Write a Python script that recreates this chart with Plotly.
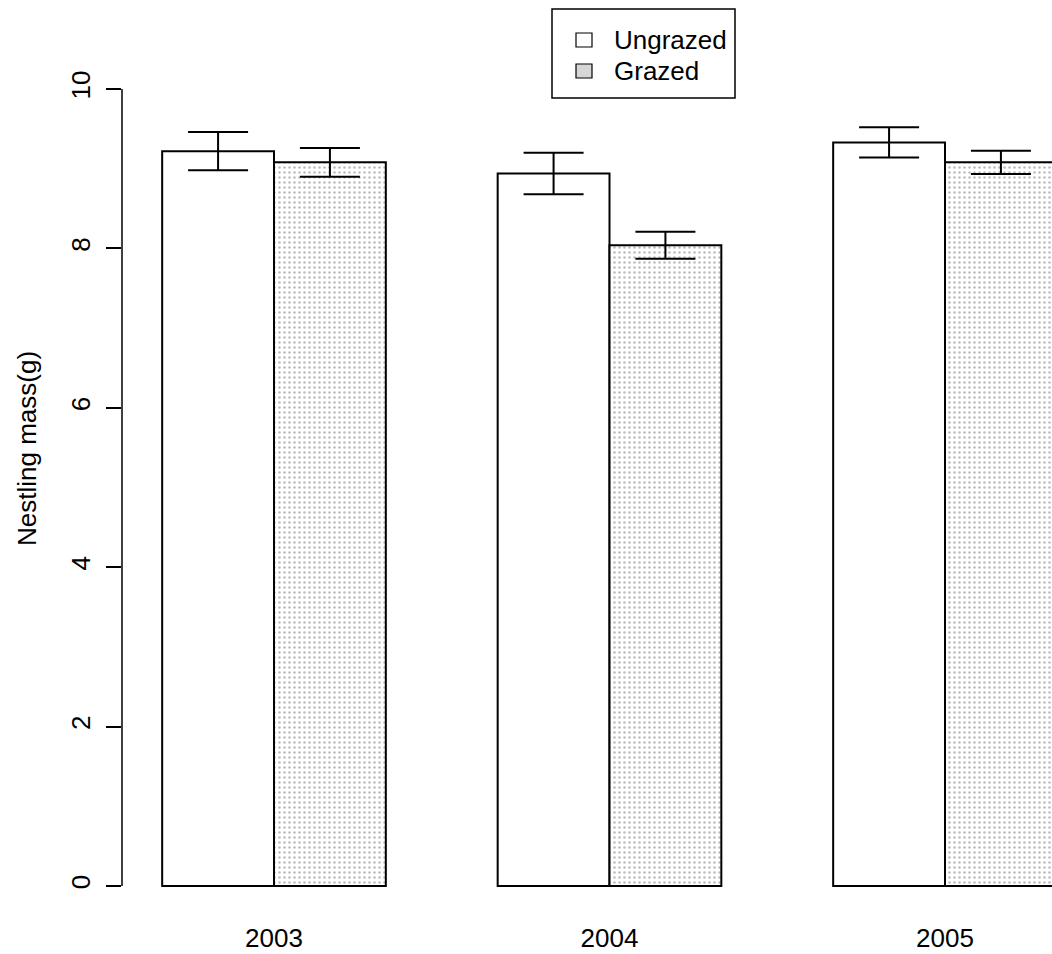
import plotly.graph_objects as go

# Mean nestling mass (g) with standard errors, by year and grazing treatment
years = ["2003", "2004", "2005"]
ungrazed_mass = [9.22, 8.94, 9.33]
ungrazed_se = [0.24, 0.26, 0.19]
grazed_mass = [9.08, 8.04, 9.08]
grazed_se = [0.18, 0.17, 0.145]
y_ticks = [0, 2, 4, 6, 8, 10]

W, H = 1052, 954
L, R, T, B = 122, 0, 40, 34          # plot-area margins (px)
FONT = "Liberation Sans, Arial, sans-serif"
FS = 26

fig = go.Figure()

fig.add_trace(go.Bar(
    name="Ungrazed", x=years, y=ungrazed_mass,
    marker=dict(color="white", line=dict(color="black", width=2)),
    error_y=dict(type="data", array=ungrazed_se, visible=True,
                 color="black", thickness=2, width=30),
    showlegend=False,
))
fig.add_trace(go.Bar(
    name="Grazed", x=years, y=grazed_mass,
    marker=dict(color="white", line=dict(color="black", width=2),
                pattern=dict(shape=".", fgcolor="#7a7a7a", bgcolor="white",
                             size=5, solidity=0.2)),
    error_y=dict(type="data", array=grazed_se, visible=True,
                 color="black", thickness=2, width=30),
    showlegend=False,
))

# y axis line drawn only over the tick span (0-10)
fig.add_shape(type="line", xref="paper", yref="y", x0=0, x1=0,
              y0=y_ticks[0], y1=y_ticks[-1], line=dict(color="black", width=1.5))

pw, ph = W - L - R, H - T - B
def px(xp):
    return (xp - L) / pw
def py(yp):
    return 1 - (yp - T) / ph

# y-axis title
fig.add_annotation(text="Nestling mass(g)", xref="paper", yref="paper",
                   x=px(27), y=py(449), textangle=-90,
                   showarrow=False, font=dict(size=FS, color="black", family=FONT),
                   xanchor="center", yanchor="middle")

# legend box with swatches
fig.add_shape(type="rect", xref="paper", yref="paper",
              x0=px(552), x1=px(735), y0=py(98), y1=py(9),
              line=dict(color="black", width=1.5), fillcolor="white", layer="above")
fig.add_shape(type="rect", xref="paper", yref="paper",
              x0=px(576), x1=px(592), y0=py(47), y1=py(33),
              line=dict(color="black", width=1.2), fillcolor="white", layer="above")
fig.add_shape(type="rect", xref="paper", yref="paper",
              x0=px(576), x1=px(592), y0=py(78), y1=py(64),
              line=dict(color="black", width=1.2), fillcolor="#d6d6d6", layer="above")
for label, yc in [("Ungrazed", 40), ("Grazed", 71)]:
    fig.add_annotation(text=label, xref="paper", yref="paper",
                       x=px(612), y=py(yc), showarrow=False,
                       xanchor="left", yanchor="middle",
                       font=dict(size=FS, color="black", family=FONT))

# y = 0 at 886 px, 79.7 px per unit
y_unit = 79.7
y_lo = (886 - (H - B)) / y_unit
y_hi = (886 - T) / y_unit
# category centre of 2003 at 273 px, 335.5 px between categories
x_unit = 335.5
x_lo = (L - 274) / x_unit
x_hi = (W - R - 274) / x_unit

fig.update_layout(
    width=W, height=H,
    margin=dict(l=L, r=R, t=T, b=B, autoexpand=False),
    paper_bgcolor="white", plot_bgcolor="white",
    barmode="group", bargap=1/3, bargroupgap=0,
    font=dict(family=FONT, size=FS, color="black"),
    xaxis=dict(type="category", range=[x_lo, x_hi], showline=False,
               showgrid=False, zeroline=False, ticks="", ticklen=0,
               tickfont=dict(size=FS)),
    yaxis=dict(range=[y_lo, y_hi], tickvals=y_ticks, ticktext=[str(v) for v in y_ticks],
               ticks="outside", ticklen=15, tickwidth=1.5, tickcolor="black",
               tickangle=-90, showline=False, showgrid=False, zeroline=False,
               tickfont=dict(size=FS), ticklabelstandoff=6),
)

fig.write_html("out.html")
